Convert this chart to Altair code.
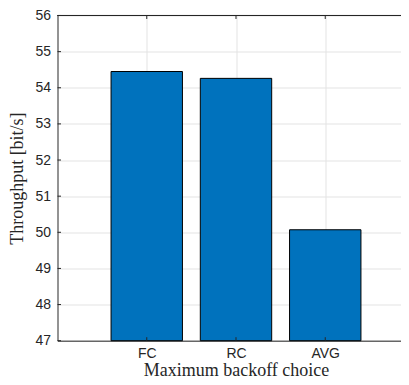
import json
import altair as alt
import pandas as pd

# ---- data ----
categories = ["FC", "RC", "AVG"]
throughput = [54.45, 54.26, 50.07]
y_ticks = [47, 48, 49, 50, 51, 52, 53, 54, 55, 56]

df = pd.DataFrame({"cat": categories, "value": throughput,
                   "pos": list(range(1, len(categories) + 1))})
ticks_df = pd.DataFrame({"t": y_ticks})
xt_df = pd.DataFrame({"p": df["pos"]})

W, H = 343.5, 325.2
AX = "#262626"
GRID = "#e3e3e3"

xscale = alt.Scale(domain=[0, len(categories) + 1], range=[0, 357], nice=False, zero=False)
yscale = alt.Scale(domain=[y_ticks[0], y_ticks[-1]], nice=False, zero=False)

label_expr = f"{json.dumps(categories)}[datum.value - 1]"

xaxis = alt.Axis(values=list(df["pos"]), labelExpr=label_expr,
                 title="Maximum backoff choice", grid=True, tickSize=0,
                 labelPadding=6, titlePadding=1, titleX=178.5)
yaxis = alt.Axis(values=y_ticks, title="Throughput [bit/s]", grid=True,
                 tickSize=0, labelPadding=7, titlePadding=8)

bars = alt.Chart(df).transform_calculate(
    x0="datum.pos - 0.4", x1="datum.pos + 0.4"
).mark_bar(color="#0072BD", stroke="#000000", strokeWidth=1).encode(
    x=alt.X("x0:Q", scale=xscale, axis=xaxis),
    x2="x1:Q",
    y=alt.Y("value:Q", scale=yscale, axis=yaxis),
    y2=alt.datum(y_ticks[0]),
)

left_ticks = alt.Chart(ticks_df).mark_rule(color=AX, strokeWidth=1).encode(
    y=alt.Y("t:Q", scale=yscale, axis=yaxis), x=alt.value(0), x2=alt.value(3.5)
)
bottom_ticks = alt.Chart(xt_df).mark_rule(color=AX, strokeWidth=1).encode(
    x=alt.X("p:Q", scale=xscale, axis=xaxis), y=alt.value(H), y2=alt.value(H - 3.5)
)
top_ticks = alt.Chart(xt_df).mark_rule(color=AX, strokeWidth=1).encode(
    x=alt.X("p:Q", scale=xscale, axis=xaxis), y=alt.value(0), y2=alt.value(3.5)
)
top_border = alt.Chart(xt_df).mark_rule(color=AX, strokeWidth=1).encode(
    x=alt.value(0), x2=alt.value(357), y=alt.value(0)
)

chart = alt.layer(bars, left_ticks, bottom_ticks, top_ticks, top_border).properties(
    width=W, height=H,
    autosize=alt.AutoSizeParams(type="none"),
    padding={"left": 49.5, "top": 7.5, "right": 0, "bottom": 40},
).configure_view(stroke=None).configure_axis(
    domainColor=AX, domainWidth=1, gridColor=GRID, gridWidth=1,
    labelFont="Liberation Sans", labelFontSize=14, labelColor=AX,
    titleFont="Liberation Serif", titleFontSize=18, titleFontWeight="normal",
    titleColor=AX,
)

chart.save("out.html", embed_options={"renderer": "svg", "actions": False})
